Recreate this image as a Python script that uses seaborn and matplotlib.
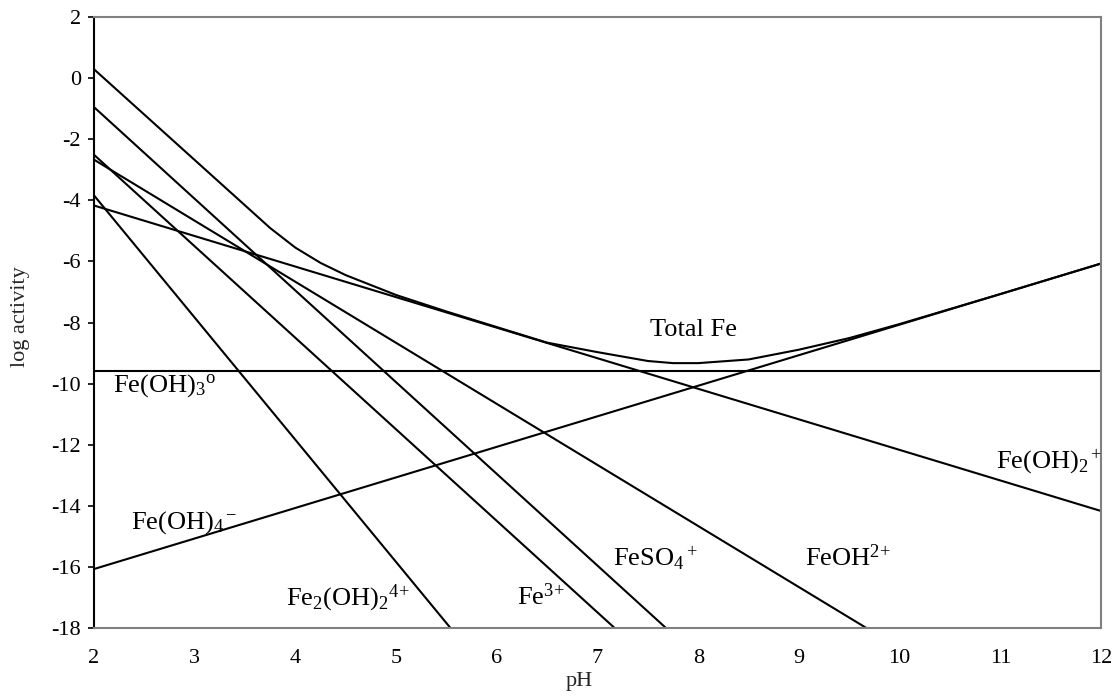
import matplotlib
matplotlib.use("Agg")
import matplotlib.pyplot as plt
import seaborn as sns
import pandas as pd

# pH axis and species activities (log units)
ph_range = [2, 12]
fe_oh3 = [-9.6, -9.6]            # Fe(OH)3o
fe_oh4 = [-16.07, -6.07]         # Fe(OH)4-
fe_oh2 = [-4.17, -14.17]         # Fe(OH)2+

feoh_ph = [2, 9.67]
feoh = [-2.67, -18.0]            # FeOH2+
feso4_ph = [2, 7.68]
feso4 = [-0.95, -18.0]           # FeSO4+
fe3_ph = [2, 7.17]
fe3 = [-2.51, -18.0]             # Fe3+
fe2oh2_ph = [2, 5.54]
fe2oh2 = [-3.84, -18.0]          # Fe2(OH)2 4+

total_ph = [2, 3.75, 4.0, 4.25, 4.5, 5.0, 5.5, 6.0, 6.5, 7.0, 7.5, 7.75,
            8.0, 8.5, 9.0, 9.5, 10, 11, 12]
total_fe = [0.29, -4.91, -5.55, -6.05, -6.45, -7.1, -7.64, -8.15, -8.66,
            -8.97, -9.26, -9.33, -9.33, -9.21, -8.89, -8.51, -8.05, -7.07,
            -6.07]

x_ticks = [2, 3, 4, 5, 6, 7, 8, 9, 10, 11, 12]
y_ticks = [-18, -16, -14, -12, -10, -8, -6, -4, -2, 0, 2]

# species label text and placement (left edge pH, baseline log activity)
labels = [
    ("Total Fe", 7.52, -8.44),
    (r"$\mathrm{Fe(OH)_3{}^o}$", 2.19, -10.26),
    (r"$\mathrm{Fe(OH)_4{}^-}$", 2.37, -14.74),
    (r"$\mathrm{Fe_2(OH)_2{}^{4\!+}}$", 3.91, -17.25),
    (r"$\mathrm{Fe^{3\!+}}$", 6.20, -17.25),
    (r"$\mathrm{FeSO_4{}^+}$", 7.15, -15.97),
    (r"$\mathrm{FeOH^{2\!+}}$", 9.06, -15.97),
    (r"$\mathrm{Fe(OH)_2{}^+}$", 10.96, -12.77),
]

sns.set_style("white")
plt.rcParams["font.family"] = ["Liberation Serif", "DejaVu Serif"]
plt.rcParams["mathtext.fontset"] = "custom"
plt.rcParams["mathtext.rm"] = "Liberation Serif"
plt.rcParams["mathtext.it"] = "Liberation Serif:italic"
plt.rcParams["mathtext.bf"] = "Liberation Serif:bold"
plt.rcParams["axes.unicode_minus"] = False

fig = plt.figure(figsize=(11.17, 6.98), dpi=100, facecolor="white")
ax = fig.add_axes([94 / 1117, 1 - 628 / 698, 1007 / 1117, 611 / 698])

series = [
    (ph_range, fe_oh3),
    (ph_range, fe_oh4),
    (ph_range, fe_oh2),
    (feoh_ph, feoh),
    (feso4_ph, feso4),
    (fe3_ph, fe3),
    (fe2oh2_ph, fe2oh2),
    (total_ph, total_fe),
]
for xs, ys in series:
    df = pd.DataFrame({"pH": xs, "log_a": ys})
    sns.lineplot(data=df, x="pH", y="log_a", color="black", linewidth=1.5,
                 estimator=None, sort=False, ax=ax)

for text, x, y in labels:
    ax.text(x, y, text, fontsize=19, ha="left", va="baseline", color="black")

ax.set_xlim(2, 12)
ax.set_ylim(-18, 2)
ax.set_xticks(x_ticks)
ax.set_yticks(y_ticks)
ax.set_xticklabels([str(v) for v in x_ticks])
ax.set_yticklabels([str(v) for v in y_ticks])
ax.tick_params(axis="x", length=0, pad=15, labelsize=16, colors="black")
ax.tick_params(axis="y", direction="out", length=4.5, width=1.2, pad=5,
               labelsize=16, colors="black", left=True)

for side in ("top", "right", "bottom"):
    ax.spines[side].set_visible(True)
    ax.spines[side].set_color("#808080")
    ax.spines[side].set_linewidth(1.5)
ax.spines["left"].set_color("black")
ax.spines["left"].set_linewidth(1.5)

ax.set_xlabel("pH", fontsize=16)
ax.set_ylabel("log activity", fontsize=16)
ax.xaxis.set_label_coords(0.482, -0.072)
ax.yaxis.set_label_coords(-0.064, 0.51)

fig.savefig("out.png", dpi=100, facecolor="white")
